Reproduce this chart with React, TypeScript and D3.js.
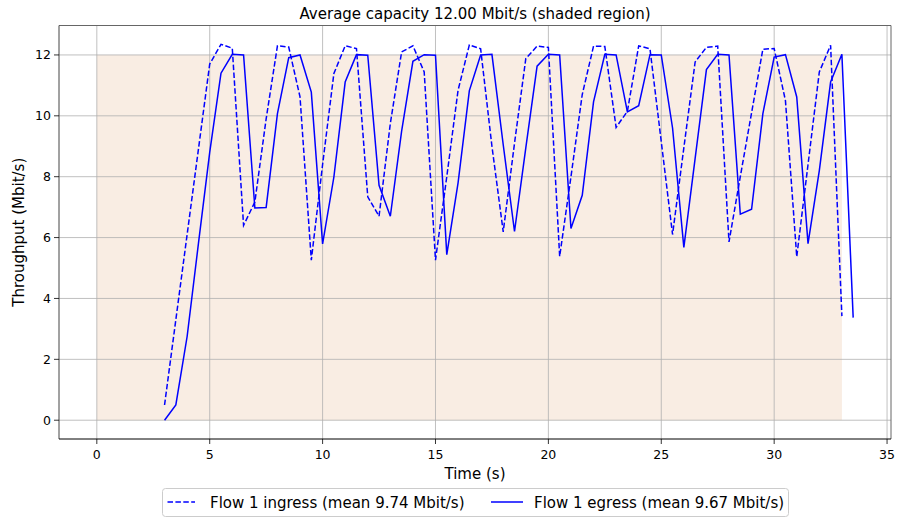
import React from "react";
import * as d3 from "d3";

const times: number[] = [3, 3.5, 4, 4.5, 5, 5.5, 6, 6.5, 7, 7.5, 8, 8.5, 9, 9.5, 10, 10.5, 11, 11.5, 12, 12.5, 13, 13.5, 14, 14.5, 15, 15.5, 16, 16.5, 17, 17.5, 18, 18.5, 19, 19.5, 20, 20.5, 21, 21.5, 22, 22.5, 23, 23.5, 24, 24.5, 25, 25.5, 26, 26.5, 27, 27.5, 28, 28.5, 29, 29.5, 30, 30.5, 31, 31.5, 32, 32.5, 33, 33.5];

const ingress: number[] = [0.5, 3.3, 6.1, 8.9, 11.7, 12.35, 12.22, 6.4, 7.17, 9.9, 12.3, 12.26, 10.62, 5.26, 8.4, 11.39, 12.3, 12.21, 7.34, 6.7, 9.75, 12.1, 12.3, 11.44, 5.26, 8.0, 10.84, 12.33, 12.2, 9.0, 6.19, 9.1, 11.88, 12.29, 12.25, 5.38, 8.0, 10.7, 12.29, 12.28, 9.62, 10.15, 12.3, 12.2, 9.15, 6.1, 8.95, 11.77, 12.25, 12.29, 5.86, 8.0, 10.1, 12.19, 12.21, 10.5, 5.37, 8.4, 11.44, 12.32, 3.42];

const egress: number[] = [0, 0.5, 2.75, 5.8, 8.8, 11.4, 12.02, 12.0, 6.97, 6.99, 10.07, 11.91, 12.0, 10.78, 5.79, 7.99, 11.11, 12.01, 11.99, 7.72, 6.7, 9.5, 11.79, 12.01, 11.99, 5.44, 7.8, 10.83, 12.0, 12.02, 9.05, 6.2, 8.95, 11.63, 12.02, 12.0, 6.3, 7.39, 10.46, 12.02, 12.0, 10.13, 10.33, 12.01, 12.0, 9.6, 5.68, 8.6, 11.52, 12.02, 12.0, 6.77, 6.93, 10.07, 11.93, 12.01, 10.62, 5.8, 8.2, 11.11, 12.02, 3.37];

const capacity = 12;
const shadeStart = 0;
const shadeEnd = 33;
const xTicks: number[] = [0, 5, 10, 15, 20, 25, 30, 35];
const yTicks: number[] = [0, 2, 4, 6, 8, 10, 12];
const titleText = "Average capacity 12.00 Mbit/s (shaded region)";
const xLabel = "Time (s)";
const yLabel = "Throughput (Mbit/s)";
const legendLabels: string[] = ["Flow 1 ingress (mean 9.74 Mbit/s)", "Flow 1 egress (mean 9.67 Mbit/s)"];

const W = 898;
const H = 519;
const L = 59, R = 891, T = 25.5, B = 439;
const FONT = "DejaVu Sans, sans-serif";

export default function App() {
  const x = d3.scaleLinear().domain([-1.675, 35.175]).range([L, R]);
  const y = d3.scaleLinear().domain([-0.6175, 12.9675]).range([B, T]);

  const inPts: [number, number][] = ingress.map((v, i) => [times[i], v]);
  const egPts: [number, number][] = egress.map((v, i) => [times[i], v]);
  const line = d3.line<[number, number]>().x(d => x(d[0])).y(d => y(d[1]));

  return (
    <div style={{ position: "fixed", left: 0, top: 0, width: W, height: H, background: "#fff" }}>
      <svg width={W} height={H} style={{ display: "block" }} fontFamily={FONT}>
        <rect x={0} y={0} width={W} height={H} fill="#fff" />
        <rect
          x={x(shadeStart)}
          y={y(capacity)}
          width={x(shadeEnd) - x(shadeStart)}
          height={y(0) - y(capacity)}
          fill="#f9ede3"
        />
        {xTicks.map(t => (
          <line key={"gx" + t} x1={x(t)} x2={x(t)} y1={T} y2={B} stroke="#b0b0b0" strokeWidth={0.8} />
        ))}
        {yTicks.map(t => (
          <line key={"gy" + t} x1={L} x2={R} y1={y(t)} y2={y(t)} stroke="#b0b0b0" strokeWidth={0.8} />
        ))}
        <path d={line(inPts) || ""} fill="none" stroke="#0000ff" strokeWidth={1.5} strokeDasharray="5.5,2.4" />
        <path d={line(egPts) || ""} fill="none" stroke="#0000ff" strokeWidth={1.5} />
        {/* spines */}
        <line x1={L} x2={R} y1={T} y2={T} stroke="#666" strokeWidth={1} />
        <line x1={R} x2={R} y1={T} y2={B} stroke="#666" strokeWidth={1} />
        <line x1={L} x2={L} y1={T} y2={B} stroke="#444" strokeWidth={1} />
        <line x1={L} x2={R} y1={B} y2={B} stroke="#000" strokeWidth={1} />
        {xTicks.map(t => (
          <g key={"tx" + t}>
            <line x1={x(t)} x2={x(t)} y1={B} y2={B + 5} stroke="#000" strokeWidth={0.8} />
            <text x={x(t)} y={B + 19.5} textAnchor="middle" fontSize={12.5} fill="#000">{t}</text>
          </g>
        ))}
        {yTicks.map(t => (
          <g key={"ty" + t}>
            <line x1={L - 5} x2={L} y1={y(t)} y2={y(t)} stroke="#000" strokeWidth={0.8} />
            <text x={L - 8} y={y(t) + 4.5} textAnchor="end" fontSize={12.5} fill="#000">{t}</text>
          </g>
        ))}
        <text x={(L + R) / 2} y={18.5} textAnchor="middle" fontSize={15} fill="#000">{titleText}</text>
        <text x={(L + R) / 2} y={478.5} textAnchor="middle" fontSize={15} fill="#000">{xLabel}</text>
        <text transform={`translate(24,${(T + B) / 2}) rotate(-90)`} textAnchor="middle" fontSize={15} fill="#000">{yLabel}</text>
        {/* legend */}
        <rect x={162.5} y={488.5} width={626} height={28} rx={3} ry={3} fill="#fff" stroke="#cccccc" strokeWidth={1} />
        <line x1={167.5} x2={195} y1={502} y2={502} stroke="#0000ff" strokeWidth={1.5} strokeDasharray="5.5,2.4" />
        <text x={210} y={507.5} fontSize={15} fill="#000">{legendLabels[0]}</text>
        <line x1={491} x2={523} y1={502} y2={502} stroke="#0000ff" strokeWidth={1.5} />
        <text x={534} y={507.5} fontSize={15} fill="#000">{legendLabels[1]}</text>
      </svg>
    </div>
  );
}
